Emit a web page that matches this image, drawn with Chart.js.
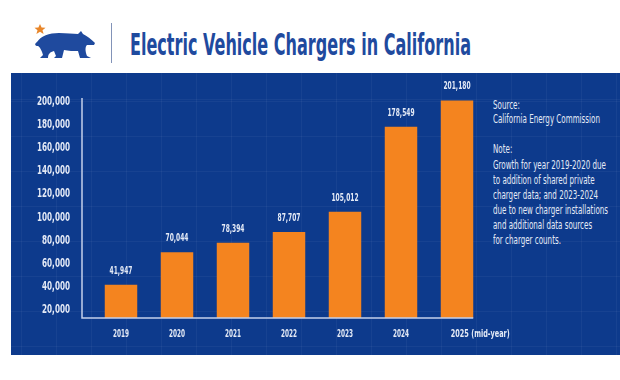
<!DOCTYPE html>
<html>
<head>
<meta charset="utf-8">
<script src="https://cdn.jsdelivr.net/npm/chart.js@4.4.1/dist/chart.umd.min.js"></script>
<style>
  html, body { margin:0; padding:0; background:#ffffff; width:620px; height:380px; overflow:hidden; }
  #panel { position:absolute; left:11px; top:73px; width:609px; height:282px; background-color:#0d3a8c;
    background-image:
      repeating-linear-gradient(to right, rgba(255,255,255,0.045) 0px, rgba(255,255,255,0.045) 1px, transparent 1px, transparent 35px),
      repeating-linear-gradient(to bottom, rgba(255,255,255,0.045) 0px, rgba(255,255,255,0.045) 1px, transparent 1px, transparent 35px);
    background-position: 10px 28px; }
  #c { position:absolute; left:0; top:0; }
  .cond { font-family:"Liberation Sans Narrow","DejaVu Sans Condensed","Arial Narrow",sans-serif; }
  #title { position:absolute; left:130px; top:29px; font-size:31px; line-height:30px; font-weight:bold; color:#1f4a9e; white-space:nowrap; transform-origin:0 0; }
  #sep { position:absolute; left:111px; top:23px; width:1px; height:40px; background:#8293b8; }
  #bear { position:absolute; left:33px; top:24px; }
  #notes { position:absolute; left:493px; top:0; transform-origin:0 0; }
  #notes div { position:absolute; left:0; white-space:nowrap; font-size:11.5px; line-height:14px; color:#e4eaf6; }
</style>
</head>
<body>
<div id="panel"></div>
<svg id="bear" width="64" height="36" viewBox="0 0 64 36">
  <polygon points="7,0 8.6,3.6 12.5,3.8 9.5,6.2 10.6,10 7,7.8 3.4,10 4.5,6.2 1.5,3.8 5.4,3.6" fill="#e8862a"/>
  <path fill="#1f4a9e" d="M4,18 C8,12 16,9 26,9 C34,9 40,10 45,10 L48,7 L50,10 C54,12 58,15 62,19 L61,21 L54,21 C52,23 52,27 54,32 L58,34 L47,34 L45,27 C41,27 35,27 31,26 L29,34 L21,34 L23,32 L21,27 C17,28 15,30 15,34 L7,34 L10,31 C9,27 7,23 5,22 C2,22 1,20 4,18 Z"/>
</svg>
<div id="sep"></div>
<div id="title" class="cond">Electric Vehicle Chargers in California</div>
<div id="notes" class="cond"></div>
<canvas id="c" width="620" height="380"></canvas>
<script>
// ---- data ----
const categories = ["2019", "2020", "2021", "2022", "2023", "2024", "2025 (mid-year)"];
const chargers = [41947, 70044, 78394, 87707, 105012, 178549, 201180];
const yTickValues = [20000, 40000, 60000, 80000, 100000, 120000, 140000, 160000, 180000, 200000];
const noteLines = ["Source:", "California Energy Commission", "", "Note:",
  "Growth for year 2019-2020 due", "to addition of shared private", "charger data; and 2023-2024",
  "due to new charger installations", "and additional data sources", "for charger counts."];

// ---- header / notes text ----
const title = document.getElementById('title');
title.style.transform = 'scaleX(' + (341 / title.getBoundingClientRect().width) + ')';
const notes = document.getElementById('notes');
const noteTops = [98, 112, 0, 142, 158, 173, 188, 203, 218, 233];
let widest = 0;
noteLines.forEach((t, i) => {
  if (!t) return;
  const d = document.createElement('div');
  d.textContent = t;
  d.style.top = noteTops[i] + 'px';
  notes.appendChild(d);
  widest = Math.max(widest, d.getBoundingClientRect().width);
});
notes.style.transform = 'scaleX(' + (115 / widest) + ')';

const FONT = "'Liberation Sans Narrow','DejaVu Sans Condensed',sans-serif";
const LIGHT = '#e4eaf6';

// draw text horizontally squeezed by factor sx
function squeezedText(ctx, text, x, y, align, sx) {
  ctx.save();
  ctx.translate(x, y);
  ctx.scale(sx, 1);
  ctx.textAlign = align;
  ctx.textBaseline = 'middle';
  ctx.fillText(text, 0, 0);
  ctx.restore();
}

const customDraw = {
  id: 'customDraw',
  afterDatasetsDraw(chart) {
    const ctx = chart.ctx;
    const meta = chart.getDatasetMeta(0);
    const ca = chart.chartArea;
    const yScale = chart.scales.y;
    const last = meta.data[meta.data.length - 1];
    const ax = ca.left - 11;
    ctx.save();
    // axis lines
    ctx.strokeStyle = '#c3d0ea';
    ctx.lineWidth = 1.5;
    ctx.beginPath();
    ctx.moveTo(ax, ca.top);
    ctx.lineTo(ax, ca.bottom);
    ctx.lineTo(last.x + last.width / 2, ca.bottom);
    ctx.stroke();
    ctx.fillStyle = LIGHT;
    // y tick labels
    ctx.font = 'bold 11.5px ' + FONT;
    let sy = 33 / ctx.measureText('200,000').width;
    yTickValues.forEach(v => {
      squeezedText(ctx, v.toLocaleString('en-US'), ax - 12, yScale.getPixelForValue(v), 'right', sy);
    });
    // value labels
    ctx.font = 'bold 11px ' + FONT;
    let sv = 27 / ctx.measureText('178,549').width;
    meta.data.forEach((bar, i) => {
      squeezedText(ctx, chargers[i].toLocaleString('en-US'), bar.x, bar.y - 14, 'center', sv);
    });
    // category labels
    ctx.font = 'bold 11px ' + FONT;
    let sc = 16 / ctx.measureText('2019').width;
    meta.data.forEach((bar, i) => {
      if (i === meta.data.length - 1) {
        let sl = 59 / ctx.measureText(categories[i]).width;
        squeezedText(ctx, categories[i], bar.x - bar.width / 2 + 10, ca.bottom + 16, 'left', sl);
      } else {
        squeezedText(ctx, categories[i], bar.x, ca.bottom + 16, 'center', sc);
      }
    });
    ctx.restore();
  }
};

new Chart(document.getElementById('c'), {
  type: 'bar',
  data: {
    labels: categories,
    datasets: [{
      data: chargers,
      backgroundColor: '#f4841f',
      borderWidth: 0,
      barPercentage: 0.58,
      categoryPercentage: 1.0
    }]
  },
  options: {
    responsive: false,
    animation: false,
    layout: { padding: { left: 0, right: 135, top: 98, bottom: 54 } },
    plugins: { legend: { display: false }, tooltip: { enabled: false } },
    scales: {
      x: {
        grid: { display: false },
        border: { display: false },
        ticks: { display: false }
      },
      y: {
        min: 13333,
        max: 203333,
        grid: { display: false },
        border: { display: false },
        afterBuildTicks(scale) { scale.ticks = yTickValues.map(v => ({ value: v })); },
        afterFit(scale) { scale.width = 93; },
        ticks: { display: false }
      }
    }
  },
  plugins: [customDraw]
});
</script>
</body>
</html>
